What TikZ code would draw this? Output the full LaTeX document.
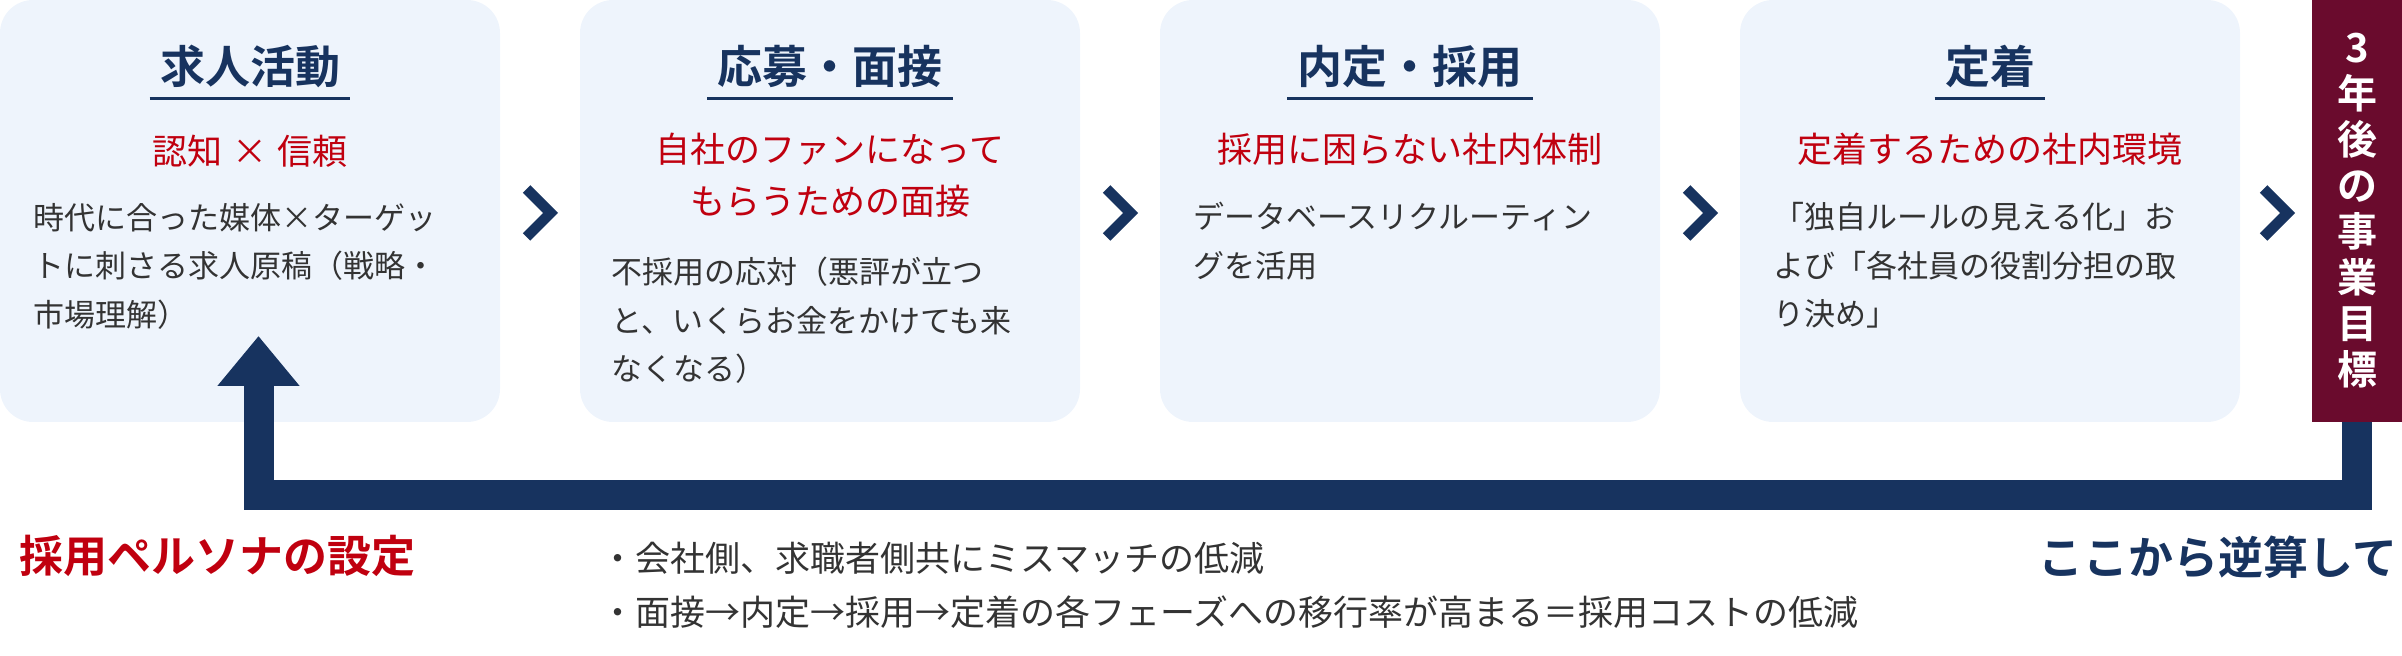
\documentclass[tikz,border=0pt]{standalone}
\usepackage{fontspec}
\setmainfont{Noto Sans CJK JP}[BoldFont = {Noto Sans CJK JP Bold}]
\usetikzlibrary{arrows.meta}

\definecolor{navy}{HTML}{17335F}
\definecolor{catchred}{HTML}{C0000F}
\definecolor{maroon}{HTML}{6A0B2D}
\definecolor{boxfill}{HTML}{EEF4FC}
\definecolor{bodygray}{HTML}{333333}

\tikzset{
	stagebox/.style = {fill = boxfill, rounded corners = 16.5pt, minimum width = 250pt, minimum height = 211pt, inner sep = 0pt},
	goalbox/.style = {fill = maroon, text = white, minimum width = 45pt, minimum height = 211pt, inner sep = 0pt, align = center, font = \fontsize{20pt}{23pt}\selectfont\bfseries},
	stagetitle/.style = {anchor = north, inner xsep = 5pt, inner ysep = 0pt, text = navy, font = \fontsize{22.5pt}{27pt}\selectfont\bfseries},
	underline/.style = {draw = navy, line width = 1.5pt},
	catch/.style = {anchor = north, inner sep = 0pt, align = center, text = catchred, font = \fontsize{17.5pt}{26pt}\selectfont},
	detail/.style = {anchor = north west, inner sep = 0pt, align = left, text = bodygray, font = \fontsize{15.5pt}{24.25pt}\selectfont},
	chevron/.style = {draw = navy, line width = 5.3pt, line join = miter, miter limit = 10}
}

\begin{document}
\begin{tikzpicture}[x = 0.5pt, y = -0.5pt]
	\useasboundingbox (0, 0) rectangle (2402, 656);

	\coordinate (ch1) at (526.5, 189);
	\coordinate (ch2) at (1106.5, 189);
	\coordinate (ch3) at (1686.5, 189);
	\coordinate (ch4) at (2263.5, 189);

	\coordinate (fbr) at (2357, 495);
	\coordinate (fbl) at (258.5, 495);
	\coordinate (tip) at (258.5, 336);

	\node [stagebox] (s1) at (250, 211) {};
	\node [stagebox] (s2) at (830, 211) {};
	\node [stagebox] (s3) at (1410, 211) {};
	\node [stagebox] (s4) at (1990, 211) {};

	% feedback loop, under the goal box
	\draw [draw = navy, line width = 15pt, -{Triangle[width = 39.5pt, length = 25pt]}] (2357, 422) -- (fbr) -- (fbl) -- (tip);

	\node [goalbox] (goal) at (2357, 211) {3\\年\\後\\の\\事\\業\\目\\標};

	\node [stagetitle] (t1) at (250, 45) {求人活動};
	\node [stagetitle] (t2) at (830, 45) {応募・面接};
	\node [stagetitle] (t3) at (1410, 45) {内定・採用};
	\node [stagetitle] (t4) at (1990, 45) {定着};

	\draw [underline] ([yshift = -5pt] t1.south west) -- ([yshift = -5pt] t1.south east);
	\draw [underline] ([yshift = -5pt] t2.south west) -- ([yshift = -5pt] t2.south east);
	\draw [underline] ([yshift = -5pt] t3.south west) -- ([yshift = -5pt] t3.south east);
	\draw [underline] ([yshift = -5pt] t4.south west) -- ([yshift = -5pt] t4.south east);

	\node [catch] (r1) at (250, 135) {認知\hspace{5pt}×\hspace{5pt}信頼};
	\node [catch] (r2) at (830, 133) {自社のファンになって\\もらうための面接};
	\node [catch] (r3) at (1410, 133) {採用に困らない社内体制};
	\node [catch] (r4) at (1990, 133) {定着するための社内環境};

	\node [detail] (d1) at (33, 203) {時代に合った媒体×ターゲッ\\トに刺さる求人原稿（戦略・\\市場理解）};
	\node [detail] (d2) at (611, 257) {不採用の応対（悪評が立つ\\と、いくらお金をかけても来\\なくなる）};
	\node [detail] (d3) at (1193, 202) {データベースリクルーティン\\グを活用};
	\node [detail] (d4) at (1773, 202) {「独自ルールの見える化」お\\よび「各社員の役割分担の取\\り決め」};

	\draw [chevron] (ch1) -- ++(24, 24) -- ++(-24, 24);
	\draw [chevron] (ch2) -- ++(24, 24) -- ++(-24, 24);
	\draw [chevron] (ch3) -- ++(24, 24) -- ++(-24, 24);
	\draw [chevron] (ch4) -- ++(24, 24) -- ++(-24, 24);

	\node [anchor = north west, inner sep = 0pt, text = catchred, font = \fontsize{22pt}{26pt}\selectfont\bfseries] (persona) at (19, 535) {採用ペルソナの設定};
	\node [anchor = north east, inner sep = 0pt, text = navy, font = \fontsize{22.5pt}{27pt}\selectfont\bfseries] (backcalc) at (2398, 535) {ここから逆算して};
	\node [anchor = north west, inner sep = 0pt, align = left, text = bodygray, font = \fontsize{17.5pt}{27pt}\selectfont] (merit) at (600, 542) {・会社側、求職者側共にミスマッチの低減\\・面接→内定→採用→定着の各フェーズへの移行率が高まる＝採用コストの低減};
\end{tikzpicture}
\end{document}
